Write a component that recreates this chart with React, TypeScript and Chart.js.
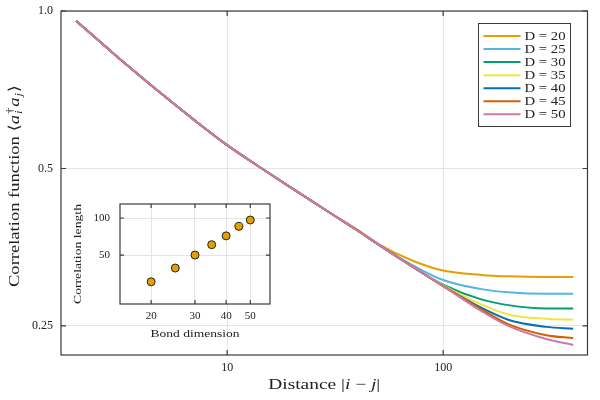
import React, { useEffect, useRef } from "react";
import { Chart, registerables } from "chart.js";

Chart.register(...registerables);

// ---------- data ----------
const distances = [2, 3, 4, 5, 7, 10, 15, 20, 30, 40, 50, 70, 100, 150, 200, 300, 400];
const bondDims = [20, 25, 30, 35, 40, 45, 50];
const corrD20 = [0.957, 0.827, 0.748, 0.693, 0.62, 0.554, 0.495, 0.458, 0.411, 0.382, 0.359, 0.335, 0.319, 0.313, 0.311, 0.31, 0.31];
const corrD25 = [0.957, 0.827, 0.748, 0.693, 0.62, 0.554, 0.495, 0.458, 0.411, 0.381, 0.358, 0.329, 0.306, 0.294, 0.29, 0.288, 0.288];
const corrD30 = [0.957, 0.827, 0.748, 0.693, 0.62, 0.554, 0.495, 0.458, 0.411, 0.381, 0.358, 0.327, 0.3, 0.281, 0.274, 0.27, 0.27];
const corrD35 = [0.957, 0.827, 0.748, 0.693, 0.62, 0.554, 0.495, 0.458, 0.411, 0.381, 0.358, 0.327, 0.299, 0.275, 0.263, 0.258, 0.257];
const corrD40 = [0.957, 0.827, 0.748, 0.693, 0.62, 0.554, 0.495, 0.458, 0.411, 0.381, 0.358, 0.327, 0.298, 0.271, 0.257, 0.249, 0.247];
const corrD45 = [0.957, 0.827, 0.748, 0.693, 0.62, 0.554, 0.495, 0.458, 0.411, 0.381, 0.358, 0.327, 0.298, 0.269, 0.252, 0.24, 0.237];
const corrD50 = [0.957, 0.827, 0.748, 0.693, 0.62, 0.554, 0.495, 0.458, 0.411, 0.381, 0.358, 0.327, 0.298, 0.267, 0.25, 0.236, 0.23];
const corrSeries = [corrD20, corrD25, corrD30, corrD35, corrD40, corrD45, corrD50];
const seriesColors = ["#E69F00", "#56B4E9", "#009E73", "#F0E442", "#0072B2", "#D55E00", "#CC79A7"];

const corrLengths = [30.3, 39.2, 50, 60.7, 71.6, 85.5, 96.3];

const mainXTicks = [10, 100];
const mainXTickLabels = ["10", "100"];
const mainYTicks = [0.25, 0.5, 1.0];
const mainYTickLabels = ["0.25", "0.5", "1.0"];
const insetXTicks = [20, 30, 40, 50];
const insetXTickLabels = ["20", "30", "40", "50"];
const insetYTicks = [50, 100];
const insetYTickLabels = ["50", "100"];

const FONT = "'Liberation Serif', 'DejaVu Serif', serif";
const TEXT = "#222";
const GRID = "#e4e4e4";
const FRAME = "#3a3a3a";

type Piece = { t: string; it?: boolean };
type Seg = Piece & { sup?: Piece; sub?: Piece };

function fontOf(it: boolean | undefined, size: number) {
  return `${it ? "italic " : ""}${size}px ${FONT}`;
}

function drawRich(ctx: CanvasRenderingContext2D, segs: Seg[], size: number, cx: number, cy: number, targetW: number) {
  const small = size * 0.68;
  const widths: number[] = [];
  let total = 0;
  for (const s of segs) {
    ctx.font = fontOf(s.it, size);
    const w = ctx.measureText(s.t).width;
    let extra = 0;
    if (s.sup) {
      ctx.font = fontOf(s.sup.it, small);
      extra = Math.max(extra, ctx.measureText(s.sup.t).width);
    }
    if (s.sub) {
      ctx.font = fontOf(s.sub.it, small);
      extra = Math.max(extra, ctx.measureText(s.sub.t).width);
    }
    if (extra) extra += 1.5;
    widths.push(w + extra);
    total += w + extra;
  }
  ctx.save();
  ctx.translate(cx, cy);
  if (targetW) ctx.scale(targetW / total, 1);
  let x = -total / 2;
  ctx.textBaseline = "alphabetic";
  ctx.textAlign = "left";
  const base = size * 0.33;
  segs.forEach((s, i) => {
    ctx.font = fontOf(s.it, size);
    ctx.fillText(s.t, x, base);
    const w = ctx.measureText(s.t).width;
    if (s.sup) {
      ctx.font = fontOf(s.sup.it, small);
      ctx.fillText(s.sup.t, x + w + 0.8, base - size * 0.42);
    }
    if (s.sub) {
      ctx.font = fontOf(s.sub.it, small);
      ctx.fillText(s.sub.t, x + w + 0.8, base + size * 0.22);
    }
    x += widths[i];
  });
  ctx.restore();
}

const boxTicks = {
  id: "boxTicks",
  beforeDraw(chart: any, _a: any, opts: any) {
    if (!opts.fill) return;
    const { left, top, right, bottom } = chart.chartArea;
    const ctx = chart.ctx;
    ctx.save();
    ctx.fillStyle = opts.fill;
    ctx.fillRect(left, top, right - left, bottom - top);
    ctx.restore();
  },
  afterDraw(chart: any, _a: any, opts: any) {
    const ctx = chart.ctx;
    const { left, top, right, bottom } = chart.chartArea;
    const L = opts.len;
    ctx.save();
    ctx.strokeStyle = FRAME;
    ctx.lineWidth = opts.width;
    ctx.strokeRect(left, top, right - left, bottom - top);
    ctx.beginPath();
    const xs = chart.scales.x;
    xs.ticks.forEach((t: any) => {
      const p = xs.getPixelForValue(t.value);
      ctx.moveTo(p, bottom);
      ctx.lineTo(p, bottom - L);
      ctx.moveTo(p, top);
      ctx.lineTo(p, top + L);
    });
    const ys = chart.scales.y;
    ys.ticks.forEach((t: any) => {
      const p = ys.getPixelForValue(t.value);
      ctx.moveTo(left, p);
      ctx.lineTo(left + L, p);
      ctx.moveTo(right, p);
      ctx.lineTo(right - L, p);
    });
    ctx.stroke();
    ctx.restore();
  },
};

const axisTitles = {
  id: "axisTitles",
  afterDraw(chart: any, _a: any, opts: any) {
    const ctx = chart.ctx;
    const { left, right, top, bottom } = chart.chartArea;
    ctx.save();
    ctx.fillStyle = TEXT;
    drawRich(ctx, opts.x, opts.size, (left + right) / 2, opts.xY, opts.xW);
    ctx.translate(opts.yX, (top + bottom) / 2 + (opts.yShift || 0));
    ctx.rotate(-Math.PI / 2);
    drawRich(ctx, opts.y, opts.size, 0, 0, opts.yW);
    ctx.restore();
  },
};

const insideLegend = {
  id: "insideLegend",
  afterDraw(chart: any, _a: any, opts: any) {
    if (!opts.show) return;
    const ctx = chart.ctx;
    ctx.save();
    ctx.fillStyle = "#fff";
    ctx.fillRect(opts.x, opts.y, opts.w, opts.h);
    ctx.strokeStyle = FRAME;
    ctx.lineWidth = 1;
    ctx.strokeRect(opts.x, opts.y, opts.w, opts.h);
    ctx.font = `${opts.size}px ${FONT}`;
    const natural = ctx.measureText(chart.data.datasets[0].label).width;
    const sx = opts.textW / natural;
    chart.data.datasets.forEach((ds: any, i: number) => {
      const yy = opts.y + opts.first + i * opts.step;
      ctx.strokeStyle = ds.borderColor;
      ctx.lineWidth = 2;
      ctx.beginPath();
      ctx.moveTo(opts.x + 5, yy);
      ctx.lineTo(opts.x + 42, yy);
      ctx.stroke();
      ctx.save();
      ctx.translate(opts.x + 46, yy + 0.5);
      ctx.scale(sx, 1);
      ctx.fillStyle = TEXT;
      ctx.font = `${opts.size}px ${FONT}`;
      ctx.textBaseline = "middle";
      ctx.textAlign = "left";
      ctx.fillText(ds.label, 0, 0);
      ctx.restore();
    });
    ctx.restore();
  },
};

function labelFrom(values: number[], labels: string[]) {
  return (v: any) => {
    const i = values.findIndex((t) => Math.abs(t - Number(v)) < 1e-9);
    return i >= 0 ? labels[i] : "";
  };
}

function fixX(h: number) {
  return (s: any) => {
    s.height = h;
    s.paddingLeft = 0;
    s.paddingRight = 0;
    s.paddingTop = 0;
    s.paddingBottom = 0;
  };
}
function fixY(w: number) {
  return (s: any) => {
    s.width = w;
    s.paddingLeft = 0;
    s.paddingRight = 0;
    s.paddingTop = 0;
    s.paddingBottom = 0;
  };
}

export default function App() {
  const mainRef = useRef<HTMLCanvasElement | null>(null);
  const insetRef = useRef<HTMLCanvasElement | null>(null);

  useEffect(() => {
    document.body.style.margin = "0";
    const main = new Chart(mainRef.current as HTMLCanvasElement, {
      type: "line",
      data: {
        datasets: corrSeries.map((vals, i) => ({
          label: `D = ${bondDims[i]}`,
          data: distances.map((d, j) => ({ x: d, y: vals[j] })),
          borderColor: seriesColors[i],
          backgroundColor: seriesColors[i],
          borderWidth: 2,
          pointRadius: 0,
          cubicInterpolationMode: "monotone",
          fill: false,
          order: corrSeries.length - 1 - i,
        })),
      },
      options: {
        animation: false,
        responsive: false,
        devicePixelRatio: 1,
        layout: { padding: { left: 0, right: 12.5, top: 11, bottom: 0 } },
        plugins: {
          legend: { display: false },
          tooltip: { enabled: false },
          boxTicks: { len: 5, width: 1.2 },
          axisTitles: {
            size: 15,
            xY: 384,
            xW: 112,
            yX: 14,
            yW: 202,
            yShift: 3,
            x: [{ t: "Distance |" }, { t: "i", it: true }, { t: " − " }, { t: "j", it: true }, { t: "|" }],
            y: [
              { t: "Correlation function ⟨" },
              { t: "a", it: true, sup: { t: "†" }, sub: { t: "i", it: true } },
              { t: "a", it: true, sub: { t: "j", it: true } },
              { t: "⟩" },
            ],
          },
          insideLegend: { show: true, x: 478.5, y: 23.5, w: 92, h: 103, first: 12.5, step: 13.05, size: 12, textW: 41 },
        } as any,
        scales: {
          x: {
            type: "logarithmic",
            min: 1.7,
            max: 466,
            afterBuildTicks: (s: any) => {
              s.ticks = mainXTicks.map((v) => ({ value: v }));
            },
            afterFit: fixX(45),
            ticks: {
              callback: labelFrom(mainXTicks, mainXTickLabels),
              font: { family: FONT, size: 12 },
              color: TEXT,
              padding: 6,
              maxRotation: 0,
              autoSkip: false,
            },
            grid: { color: GRID, lineWidth: 1, drawTicks: false },
            border: { display: false },
          },
          y: {
            type: "logarithmic",
            min: 0.2205,
            max: 1.0,
            afterBuildTicks: (s: any) => {
              s.ticks = mainYTicks.map((v) => ({ value: v }));
            },
            afterFit: fixY(61),
            ticks: {
              callback: labelFrom(mainYTicks, mainYTickLabels),
              font: { family: FONT, size: 12 },
              color: TEXT,
              padding: 8,
              autoSkip: false,
            },
            grid: { color: GRID, lineWidth: 1, drawTicks: false },
            border: { display: false },
          },
        },
      } as any,
      plugins: [boxTicks, axisTitles, insideLegend],
    });

    const inset = new Chart(insetRef.current as HTMLCanvasElement, {
      type: "scatter",
      data: {
        datasets: [
          {
            label: "Correlation length",
            data: bondDims.map((d, i) => ({ x: d, y: corrLengths[i] })),
            backgroundColor: "#E69F00",
            borderColor: "#222",
            borderWidth: 1,
            pointRadius: 4,
          },
        ],
      },
      options: {
        animation: false,
        responsive: false,
        devicePixelRatio: 1,
        layout: { padding: { left: 0, right: 10, top: 9, bottom: 0 } },
        plugins: {
          legend: { display: false },
          tooltip: { enabled: false },
          boxTicks: { len: 4, width: 1.2, fill: "#ffffff" },
          axisTitles: {
            size: 11,
            xY: 138,
            xW: 89,
            yX: 17,
            yW: 100,
            x: [{ t: "Bond dimension" }],
            y: [{ t: "Correlation length" }],
          },
          insideLegend: { show: false },
        } as any,
        scales: {
          x: {
            type: "logarithmic",
            min: 15,
            max: 60,
            afterBuildTicks: (s: any) => {
              s.ticks = insetXTicks.map((v) => ({ value: v }));
            },
            afterFit: fixX(41),
            ticks: {
              callback: labelFrom(insetXTicks, insetXTickLabels),
              font: { family: FONT, size: 11 },
              color: TEXT,
              padding: 6,
              maxRotation: 0,
              autoSkip: false,
            },
            grid: { color: GRID, lineWidth: 1, drawTicks: false },
            border: { display: false },
          },
          y: {
            type: "logarithmic",
            min: 20,
            max: 130,
            afterBuildTicks: (s: any) => {
              s.ticks = insetYTicks.map((v) => ({ value: v }));
            },
            afterFit: fixY(60),
            ticks: {
              callback: labelFrom(insetYTicks, insetYTickLabels),
              font: { family: FONT, size: 11 },
              color: TEXT,
              padding: 10,
              autoSkip: false,
            },
            grid: { color: GRID, lineWidth: 1, drawTicks: false },
            border: { display: false },
          },
        },
      } as any,
      plugins: [boxTicks, axisTitles, insideLegend],
    });

    return () => {
      main.destroy();
      inset.destroy();
    };
  }, []);

  return (
    <div style={{ position: "relative", width: 600, height: 400, background: "#fff" }}>
      <canvas ref={mainRef} width={600} height={400} style={{ position: "absolute", left: 0, top: 0 }} />
      <canvas ref={insetRef} width={220} height={150} style={{ position: "absolute", left: 60, top: 195 }} />
    </div>
  );
}
